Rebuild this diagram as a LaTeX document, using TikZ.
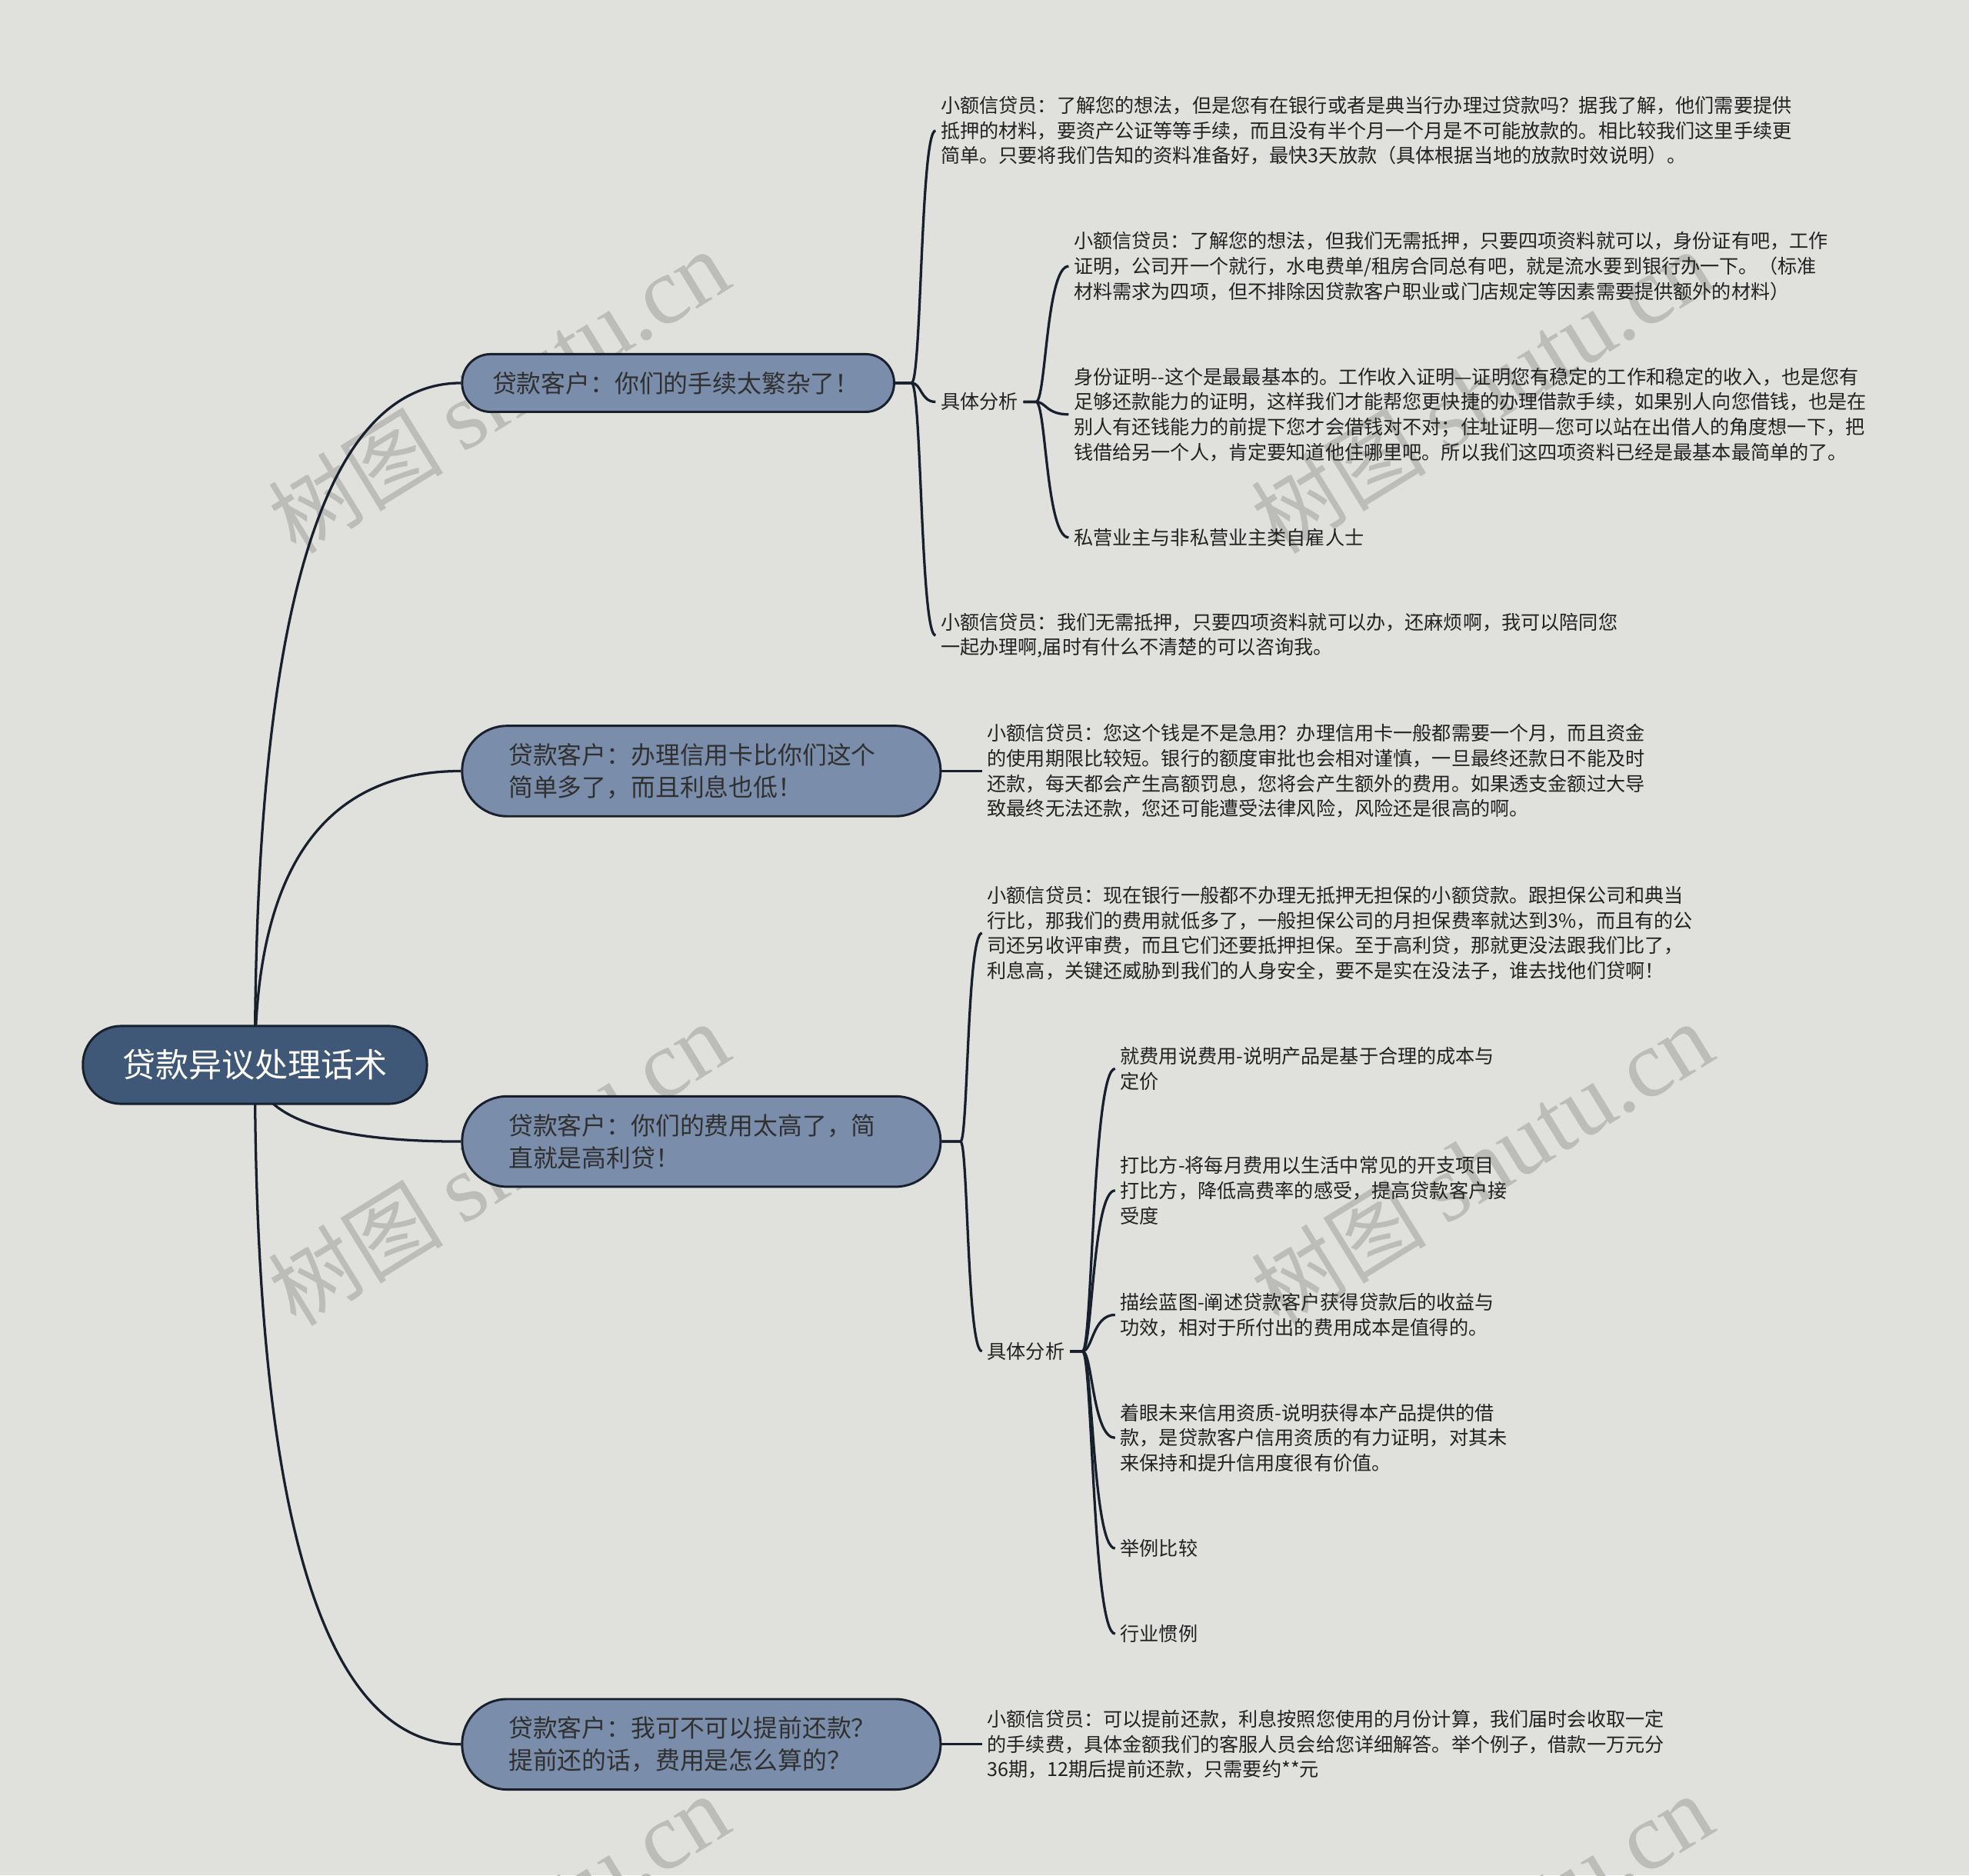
\documentclass[tikz,border=0pt]{standalone}
\usepackage{fontspec}
\newfontfamily\cjk{Noto Sans CJK SC}
\newfontfamily\wmserif{Liberation Serif}
\usetikzlibrary{calc}
\pgfdeclarelayer{bg}
\pgfdeclarelayer{edges}
\pgfsetlayers{bg,edges,main}
\definecolor{bgc}{RGB}{224,225,221}
\definecolor{rootc}{RGB}{64,88,120}
\definecolor{brc}{RGB}{122,141,170}
\definecolor{linec}{RGB}{24,32,46}
\definecolor{txtdark}{RGB}{48,48,48}
\definecolor{txtc}{RGB}{34,34,34}
\definecolor{wmc}{RGB}{188,189,185}
\tikzset{
  rootnode/.style={draw=linec, line width=1.8pt, fill=rootc, rounded corners=30.5pt,
    minimum width=274pt, minimum height=62pt, inner sep=0pt, text=white,
    font=\cjk\fontsize{26.4}{32}\selectfont},
  brnode/.style={draw=linec, line width=1.8pt, fill=brc, text=txtdark, align=left,
    inner ysep=0pt, font=\cjk\fontsize{19.5}{26}\selectfont},
  brsmall/.style={brnode, minimum width=344pt, minimum height=46pt, rounded corners=22.8pt,
    inner xsep=24pt, text width=296pt},
  brbig/.style={brnode, minimum width=381pt, minimum height=72pt, rounded corners=35.8pt,
    inner xsep=37pt, text width=307pt},
  txt/.style={font=\cjk\fontsize{15.4}{20}\selectfont, align=left, inner xsep=4pt,
    inner ysep=0pt, anchor=west, text=txtc},
  edge/.style={draw=linec, line width=2pt},
  wm/.style={text=wmc, rotate=31.6, inner sep=0pt}
}
\begin{document}
\begin{tikzpicture}[x=1pt,y=-1pt]
\useasboundingbox (0,0) rectangle (1568,1493.3);
\begin{pgfonlayer}{bg}
\fill[bgc] (0,0) rectangle (1568,1493.3);
\begin{scope}
\clip (0,0) rectangle (1568,1493.3);
\foreach \wx/\wy [count=\i] in {397/312, 397/927, 397/1542, 1180/312, 1180/927, 1180/1542}{
  \node[wm] (wm\i) at (\wx,\wy) {\cjk\fontsize{70}{80}\selectfont 树图 \wmserif\fontsize{76}{80}\selectfont shutu.cn};
}
\end{scope}
\end{pgfonlayer}

% root and branches
\node[rootnode] (root) at (203,848) {贷款异议处理话术};
\node[brsmall] (b1) at (540,305) {贷款客户：你们的手续太繁杂了！};
\node[brbig] (b2) at (558.5,614) {贷款客户：办理信用卡比你们这个\\简单多了，而且利息也低！};
\node[brbig] (b3) at (558.5,909) {贷款客户：你们的费用太高了，简\\直就是高利贷！};
\node[brbig] (b4) at (558.5,1389) {贷款客户：我可不可以提前还款？\\提前还的话，费用是怎么算的？};

% branch 1 children
\node[txt] (a1) at (745,104) {小额信贷员：了解您的想法，但是您有在银行或者是典当行办理过贷款吗？据我了解，他们需要提供\\抵押的材料，要资产公证等等手续，而且没有半个月一个月是不可能放款的。相比较我们这里手续更\\简单。只要将我们告知的资料准备好，最快3天放款（具体根据当地的放款时效说明）。};
\node[txt] (a2) at (745,320) {具体分析};
\node[txt] (a3) at (745,506) {小额信贷员：我们无需抵押，只要四项资料就可以办，还麻烦啊，我可以陪同您\\一起办理啊,届时有什么不清楚的可以咨询我。};
\node[txt] (c1) at (851,212) {小额信贷员：了解您的想法，但我们无需抵押，只要四项资料就可以，身份证有吧，工作\\证明，公司开一个就行，水电费单/租房合同总有吧，就是流水要到银行办一下。（标准\\材料需求为四项，但不排除因贷款客户职业或门店规定等因素需要提供额外的材料）};
\node[txt] (c2) at (851,330) {身份证明-{}-这个是最最基本的。工作收入证明—证明您有稳定的工作和稳定的收入，也是您有\\足够还款能力的证明，这样我们才能帮您更快捷的办理借款手续，如果别人向您借钱，也是在\\别人有还钱能力的前提下您才会借钱对不对；住址证明—您可以站在出借人的角度想一下，把\\钱借给另一个人，肯定要知道他住哪里吧。所以我们这四项资料已经是最基本最简单的了。};
\node[txt] (c3) at (851,428) {私营业主与非私营业主类自雇人士};

% branch 2 child
\node[txt] (f1) at (782,614) {小额信贷员：您这个钱是不是急用？办理信用卡一般都需要一个月，而且资金\\的使用期限比较短。银行的额度审批也会相对谨慎，一旦最终还款日不能及时\\还款，每天都会产生高额罚息，您将会产生额外的费用。如果透支金额过大导\\致最终无法还款，您还可能遭受法律风险，风险还是很高的啊。};

% branch 3 children
\node[txt] (d1) at (782,743) {小额信贷员：现在银行一般都不办理无抵押无担保的小额贷款。跟担保公司和典当\\行比，那我们的费用就低多了，一般担保公司的月担保费率就达到3\%，而且有的公\\司还另收评审费，而且它们还要抵押担保。至于高利贷，那就更没法跟我们比了，\\利息高，关键还威胁到我们的人身安全，要不是实在没法子，谁去找他们贷啊！};
\node[txt] (d2) at (782,1076) {具体分析};
\node[txt] (e1) at (888,851) {就费用说费用-说明产品是基于合理的成本与\\定价};
\node[txt] (e2) at (888,948) {打比方-将每月费用以生活中常见的开支项目\\打比方，降低高费率的感受，提高贷款客户接\\受度};
\node[txt] (e3) at (888,1047) {描绘蓝图-阐述贷款客户获得贷款后的收益与\\功效，相对于所付出的费用成本是值得的。};
\node[txt] (e4) at (888,1145) {着眼未来信用资质-说明获得本产品提供的借\\款，是贷款客户信用资质的有力证明，对其未\\来保持和提升信用度很有价值。};
\node[txt] (e5) at (888,1233) {举例比较};
\node[txt] (e6) at (888,1301) {行业惯例};

% branch 4 child
\node[txt] (g1) at (782,1389) {小额信贷员：可以提前还款，利息按照您使用的月份计算，我们届时会收取一定\\的手续费，具体金额我们的客服人员会给您详细解答。举个例子，借款一万元分\\36期，12期后提前还款，只需要约**元};

\begin{pgfonlayer}{edges}
\foreach \b in {b1,b2,b3,b4}{
  \draw[edge] (root.center) .. controls ($(root.center)!0.6667!(root.center |- \b.west)$) and ($(\b.west)!0.6667!(root.center |- \b.west)$) .. (\b.west);
}
\foreach \c in {a1,a2,a3}{
  \draw[edge] (b1.east) -- ++(13,0) .. controls +(8,0) and +(-12,0) .. (\c.west);
}
\foreach \c in {c1,c2,c3}{
  \draw[edge] (a2.east) -- ++(10,0) .. controls +(8,0) and +(-18,0) .. (\c.west);
}
\draw[edge] (b2.east) -- (f1.west);
\foreach \c in {d1,d2}{
  \draw[edge] (b3.east) -- ++(15,0) .. controls +(6,0) and +(-12,0) .. (\c.west);
}
\foreach \c in {e1,e2,e3,e4,e5,e6}{
  \draw[edge] (d2.east) -- ++(10,0) .. controls +(8,0) and +(-18,0) .. (\c.west);
}
\draw[edge] (b4.east) -- (g1.west);
\end{pgfonlayer}
\end{tikzpicture}
\end{document}
